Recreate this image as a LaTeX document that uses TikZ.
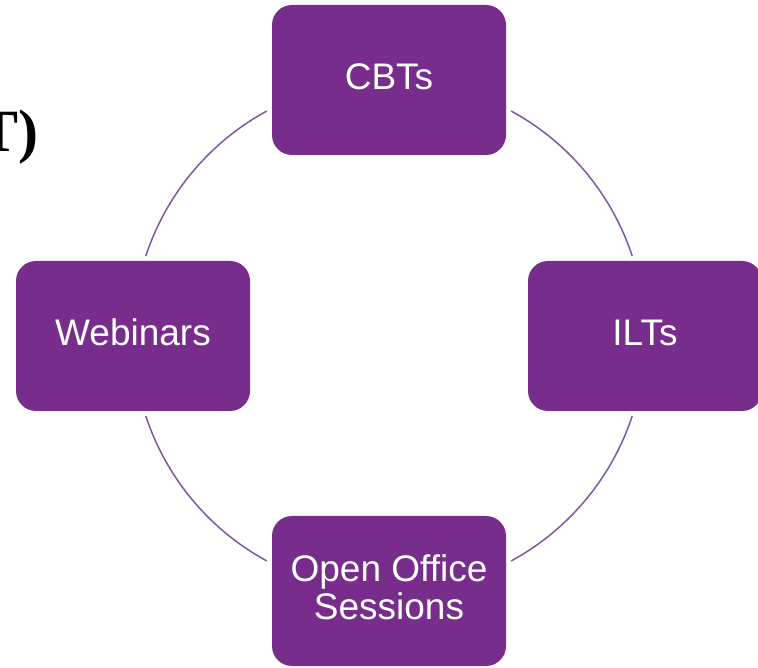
\documentclass[tikz,border=0pt]{standalone}
\usepackage{fontspec}
\setmainfont{Liberation Sans}
\newfontfamily\titlefont{Liberation Serif}
\definecolor{boxpurple}{RGB}{120,45,140}
\definecolor{ringpurple}{RGB}{125,90,155}
\begin{document}
\begin{tikzpicture}[x=1pt,y=1pt,
  stagebox/.style={fill=boxpurple, rounded corners=20pt, minimum width=234pt,
    minimum height=150pt, inner sep=0pt, text=white, text depth=7pt,
    font=\fontsize{37}{38}\selectfont, align=center},
  ring/.style={draw=ringpurple, line width=1.5pt}]
\useasboundingbox (0,0) rectangle (758,667);
\clip (0,0) rectangle (758,667);
\coordinate (hub) at (389,331);
\node[anchor=base east, inner sep=0pt, font=\titlefont\bfseries\fontsize{60}{60}\selectfont] (title) at (39,515) {T)};
\node[stagebox] (cbt) at (389,587) {CBTs};
\node[stagebox] (web) at (133,331) {Webinars};
\node[stagebox] (ilt) at (645,331) {ILTs};
\node[stagebox] (oos) at (389,76) {Open Office\\Sessions};
\draw[ring] (hub) ++(118.5:256) arc[start angle=118.5, end angle=161.8, radius=256];
\draw[ring] (hub) ++(198.2:256) arc[start angle=198.2, end angle=241.5, radius=256];
\draw[ring] (hub) ++(298.5:256) arc[start angle=298.5, end angle=341.8, radius=256];
\draw[ring] (hub) ++(18.2:256) arc[start angle=18.2, end angle=61.5, radius=256];
\end{tikzpicture}
\end{document}
